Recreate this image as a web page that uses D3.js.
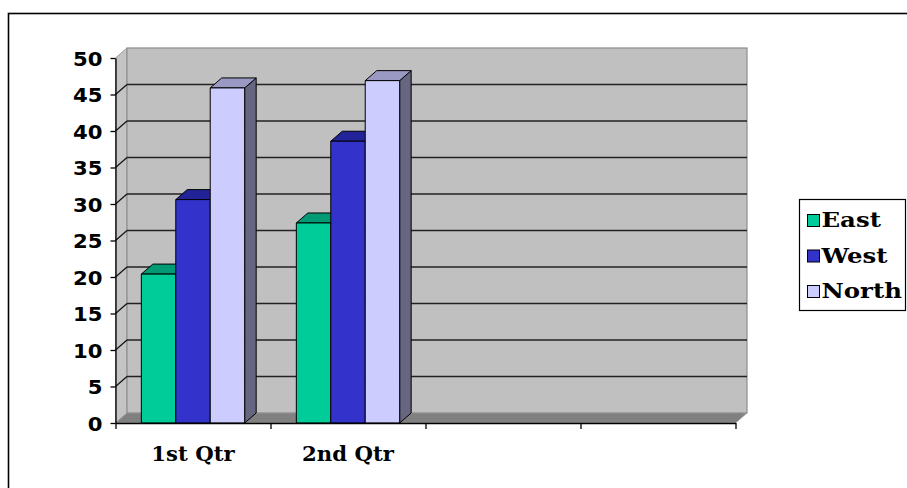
<!DOCTYPE html>
<html>
<head>
<meta charset="utf-8">
<script src="https://cdn.jsdelivr.net/npm/d3@7"></script>
<style>
  html, body { margin: 0; padding: 0; background: #fff; }
  svg { display: block; }
</style>
</head>
<body>
<svg id="chart" width="907" height="488"></svg>
<script>
// Quarterly values per region (only the first two quarters hold data)
const categories = ["1st Qtr", "2nd Qtr", "", ""];
const seriesNames = ["East", "West", "North"];
const eastValues = [20.4, 27.4];
const westValues = [30.6, 38.6];
const northValues = [45.9, 46.9];
const yTicks = [0, 5, 10, 15, 20, 25, 30, 35, 40, 45, 50];

const seriesValues = [eastValues, westValues, northValues];
const palette = {
  East:  { front: "#00CC99", top: "#009a74", side: "#006b52" },
  West:  { front: "#3333CC", top: "#232399", side: "#1c1c70" },
  North: { front: "#CCCCFF", top: "#9999C4", side: "#666680" }
};

const svg = d3.select("#chart");
const dx = 11.5, dy = 10;              // oblique depth offset of the 3-D box
const L = 115.5, R = 735.5;            // front edge of the category axis

const y = d3.scaleLinear().domain([0, 50]).range([423, 58]);
const xSlot = d3.scaleBand().domain(d3.range(categories.length)).range([L, R]).padding(0);
const xSeries = d3.scaleBand().domain(seriesNames)
  .range([0, xSlot.bandwidth()]).paddingInner(0).paddingOuter(0.75);
const xEdge = d3.scaleLinear().domain([0, categories.length]).range([L, R]);

const y0 = y(0), yMax = y(50);

// widen a text run horizontally by a factor, keeping its anchor
function widen(sel, k) {
  sel.each(function () {
    const w = this.getComputedTextLength();
    if (w > 0) d3.select(this).attr("textLength", w * k).attr("lengthAdjust", "spacingAndGlyphs");
  });
}

// outer frame
svg.append("rect")
  .attr("x", 8.5).attr("y", 13.5).attr("width", 1000).attr("height", 1000)
  .attr("fill", "#fff").attr("stroke", "#000").attr("stroke-width", 1.6);

// side wall
svg.append("polygon")
  .attr("points", [[L, yMax], [L + dx, yMax - dy], [L + dx, y0 - dy], [L, y0]].join(" "))
  .attr("fill", "#c4c4c4").attr("stroke", "#9a9a9a").attr("stroke-width", 1);

// back wall
svg.append("rect")
  .attr("x", L + dx).attr("y", yMax - dy)
  .attr("width", R - L).attr("height", y0 - yMax)
  .attr("fill", "#c0c0c0").attr("stroke", "#8e8e8e").attr("stroke-width", 1.2);

// floor
svg.append("polygon")
  .attr("points", [[L, y0], [L + dx, y0 - dy], [R + dx, y0 - dy], [R, y0]].join(" "))
  .attr("fill", "#808080").attr("stroke", "#9a9a9a").attr("stroke-width", 0.8);

// gridlines on back wall and their links across the side wall
const inner = yTicks.filter(t => t > 0 && t < 50);
svg.append("g").selectAll("line").data(inner).join("line")
  .attr("x1", L + dx).attr("x2", R + dx)
  .attr("y1", d => y(d) - dy).attr("y2", d => y(d) - dy)
  .attr("stroke", "#222").attr("stroke-width", 1.3);
svg.append("g").selectAll("line").data(inner).join("line")
  .attr("x1", L).attr("x2", L + dx)
  .attr("y1", d => y(d)).attr("y2", d => y(d) - dy)
  .attr("stroke", "#111").attr("stroke-width", 1.2);

// bars
const bars = [];
seriesNames.forEach((name, si) => {
  seriesValues[si].forEach((v, ci) => bars.push({ name, ci, v }));
});
bars.sort((a, b) => a.ci - b.ci || seriesNames.indexOf(a.name) - seriesNames.indexOf(b.name));

const gBars = svg.append("g").attr("stroke", "#000").attr("stroke-width", 1).attr("stroke-linejoin", "round");
bars.forEach(b => {
  const x0 = xSlot(b.ci) + xSeries(b.name);
  const x1 = x0 + xSeries.bandwidth();
  const yt = y(b.v);
  const c = palette[b.name];
  gBars.append("polygon")
    .attr("points", [[x1, yt], [x1 + dx, yt - dy], [x1 + dx, y0 - dy], [x1, y0]].join(" "))
    .attr("fill", c.side);
  gBars.append("polygon")
    .attr("points", [[x0, yt], [x0 + dx, yt - dy], [x1 + dx, yt - dy], [x1, yt]].join(" "))
    .attr("fill", c.top);
  gBars.append("rect")
    .attr("x", x0).attr("y", yt).attr("width", x1 - x0).attr("height", y0 - yt)
    .attr("fill", c.front);
});

// value axis
const yAxis = svg.append("g").attr("transform", `translate(${L},0)`)
  .call(d3.axisLeft(y).tickValues(yTicks).tickSize(5).tickSizeOuter(0).tickPadding(8));
yAxis.select(".domain").attr("stroke", "#000").attr("stroke-width", 1.3);
yAxis.selectAll(".tick line").attr("stroke", "#000").attr("stroke-width", 1.3);
yAxis.selectAll(".tick text")
  .attr("font-family", "DejaVu Sans").attr("font-weight", "bold")
  .attr("font-size", 20).attr("fill", "#000").attr("dy", "0.36em")
  .call(widen, 1.06);

// category axis: tick marks on slot boundaries
const xAxis = svg.append("g").attr("transform", `translate(0,${y0})`)
  .call(d3.axisBottom(xEdge).tickValues(d3.range(categories.length + 1)).tickSize(6).tickSizeOuter(0).tickFormat(""));
xAxis.select(".domain").attr("stroke", "#000").attr("stroke-width", 1.3);
xAxis.selectAll(".tick line").attr("stroke", "#000").attr("stroke-width", 1.3);

// category labels centred in each slot
const xLab = svg.append("g").attr("transform", `translate(0,${y0})`)
  .call(d3.axisBottom(xSlot).tickSize(0).tickPadding(24).tickFormat(i => categories[i]));
xLab.select(".domain").remove();
xLab.selectAll(".tick text")
  .attr("font-family", "DejaVu Serif").attr("font-weight", "bold")
  .attr("font-size", 20).attr("fill", "#000")
  .call(widen, 1.06);

// legend
const legend = svg.append("g").attr("transform", "translate(799.5,199.5)");
legend.append("rect").attr("width", 106).attr("height", 111)
  .attr("fill", "#fff").attr("stroke", "#000").attr("stroke-width", 1.2);
const items = legend.selectAll("g.item").data(seriesNames).join("g")
  .attr("class", "item")
  .attr("transform", (d, i) => `translate(8,${15 + i * 35.5})`);
items.append("rect").attr("width", 12).attr("height", 12)
  .attr("fill", d => palette[d].front).attr("stroke", "#000").attr("stroke-width", 1);
items.append("text").attr("x", 14).attr("y", 12.5)
  .attr("font-family", "DejaVu Serif").attr("font-weight", "bold")
  .attr("font-size", 20).attr("fill", "#000")
  .text(d => d)
  .call(widen, 1.22);
</script>
</body>
</html>
